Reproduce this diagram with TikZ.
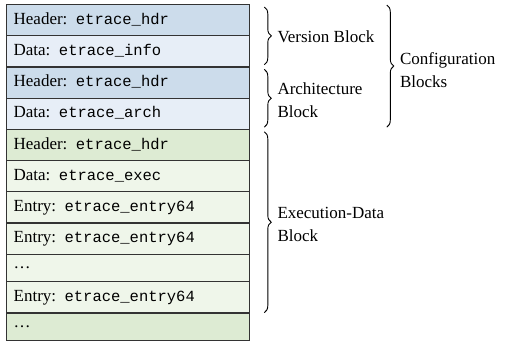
\documentclass[tikz,border=0pt]{standalone}
\usepackage{fontspec}
\setmainfont{Liberation Serif}
\setmonofont{Liberation Mono}
\usetikzlibrary{decorations.pathreplacing,calc}
\definecolor{hdrblue}{RGB}{204,220,235}
\definecolor{datblue}{RGB}{231,238,247}
\definecolor{hdrgreen}{RGB}{221,235,211}
\definecolor{datgreen}{RGB}{239,246,234}
\newcommand\ctt[1]{{\fontsize{15.5}{18}\selectfont\ttfamily #1}}
\begin{document}
\begin{tikzpicture}[x=1pt,y=-1pt,
  row/.style={draw=black!80, line width=1.3pt, anchor=north west,
    minimum width=243pt, minimum height=31.2pt, text width=228pt,
    inner xsep=7.5pt, inner ysep=0pt, align=left,
    font=\fontsize{17}{20}\selectfont, text height=12pt, text depth=4pt},
  dotrow/.style={row, minimum height=27.5pt, text height=, text depth=},
  brc/.style={decorate, decoration={brace, amplitude=7pt}, line width=0.9pt},
  lbl/.style={anchor=west, align=left, inner sep=0pt,
    font=\fontsize{17}{23}\selectfont}]
\useasboundingbox (0,0) rectangle (507,345);
\node[row, fill=hdrblue]  (r1) at (5.5,4)     {Header: \ctt{etrace\_hdr}};
\node[row, fill=datblue]  (r2) at (5.5,35.2)  {Data: \ctt{etrace\_info}};
\node[row, fill=hdrblue]  (r3) at (5.5,66.4)  {Header: \ctt{etrace\_hdr}};
\node[row, fill=datblue]  (r4) at (5.5,97.6)  {Data: \ctt{etrace\_arch}};
\node[row, fill=hdrgreen] (r5) at (5.5,128.8) {Header: \ctt{etrace\_hdr}};
\node[row, fill=datgreen] (r6) at (5.5,160)   {Data: \ctt{etrace\_exec}};
\node[row, fill=datgreen] (r7) at (5.5,191.2) {Entry: \ctt{etrace\_entry64}};
\node[row, fill=datgreen] (r8) at (5.5,222.4) {Entry: \ctt{etrace\_entry64}};
\node[dotrow, fill=datgreen] (r9) at (5.5,253.6) {\dots};
\node[row, fill=datgreen] (r10) at (5.5,281.1) {Entry: \ctt{etrace\_entry64}};
\node[dotrow, fill=hdrgreen] (r11) at (5.5,312.3) {\dots};

\draw[brc] ($(r1.north east)+(14.5,3)$) coordinate (v1) -- ($(r2.south east)+(14.5,-3)$) coordinate (v2);
\draw[brc] ($(r3.north east)+(14.5,3)$) coordinate (a1) -- ($(r4.south east)+(14.5,-3)$) coordinate (a2);
\draw[brc] ($(r5.north east)+(14.5,3)$) coordinate (e1) -- ($(r10.south east)+(14.5,-1)$) coordinate (e2);
\draw[brc] ($(r1.north east)+(137,1)$) coordinate (c1) -- ($(r4.south east)+(137,-3)$) coordinate (c2);

\node[lbl] (lv) at ($(v1)!0.5!(v2)+(13,1)$) {Version Block};
\node[lbl] (la) at ($(a1)!0.5!(a2)+(13,2)$) {Architecture\\Block};
\node[lbl] (le) at ($(e1)!0.5!(e2)+(13,2)$) {Execution-Data\\Block};
\node[lbl] (lc) at ($(c1)!0.5!(c2)+(13,4)$) {Configuration\\Blocks};
\end{tikzpicture}
\end{document}
